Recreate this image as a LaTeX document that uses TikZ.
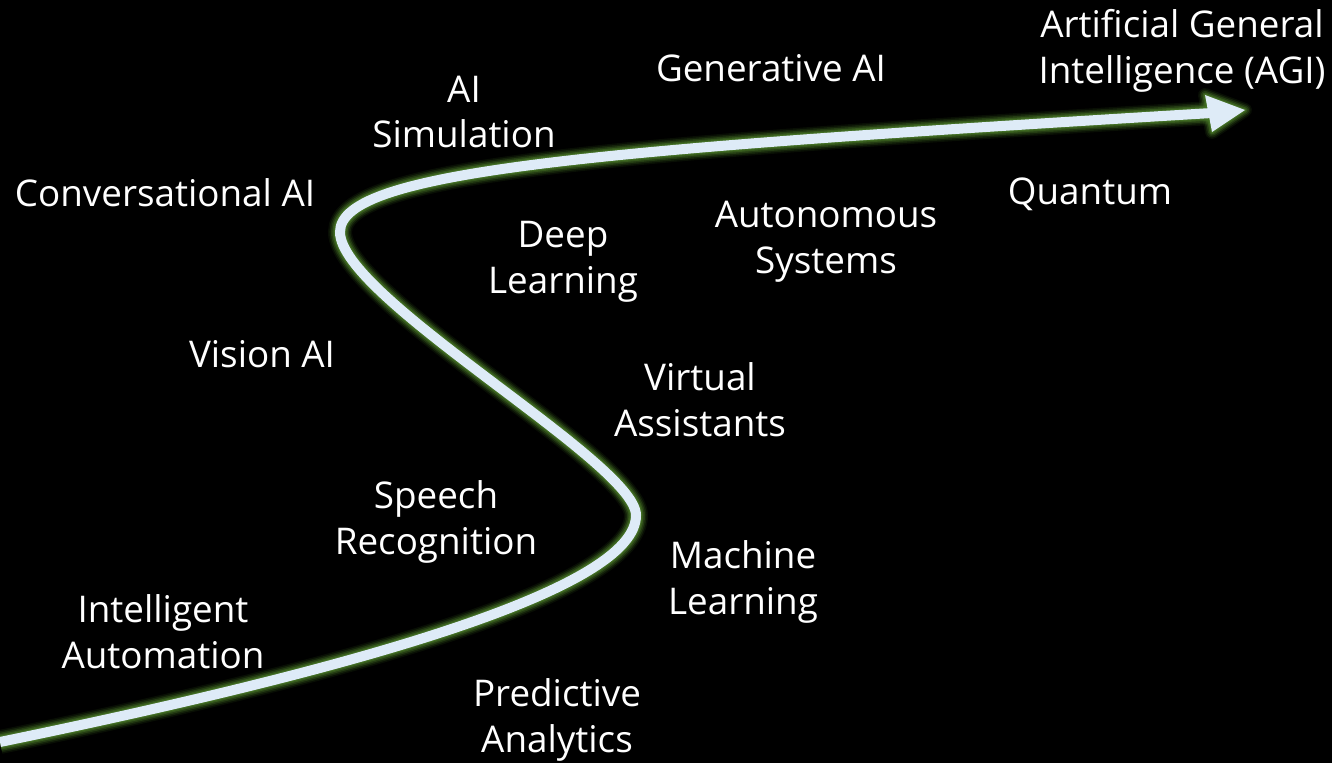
\documentclass[tikz,border=0pt]{standalone}
\usepackage{fontspec}
\setmainfont{Open Sans}
\definecolor{core}{HTML}{DEEBF7}
\definecolor{glow}{HTML}{467526}
\begin{document}
\begin{tikzpicture}[x=0.5pt,y=-0.5pt,
  lbl/.style={text=white, font=\fontsize{18.4}{22.8}\selectfont, align=center, inner sep=0pt}]
\fill[black] (0,0) rectangle (1332,763);
\useasboundingbox (0,0) rectangle (1332,763);
% glow layers
\foreach \w/\o in {12/0.12, 10.5/0.2, 9/0.32, 7.5/0.5, 6.2/0.75}{
  \draw[glow, line width=\w pt, opacity=\o, line cap=butt]
    (0,742) .. controls (350,670) and (637,590) .. (636,515)
    .. controls (635,462) and (340,298) .. (340,232)
    .. controls (340,170) and (600,150) .. (1212,113);
  \draw[glow, line width=\w pt - 5pt, opacity=\o, line join=round]
    (1245,110) -- (1205,95) -- (1212,132) -- cycle;
}
\draw[core, line width=5pt]
    (0,742) .. controls (350,670) and (637,590) .. (636,515)
    .. controls (635,462) and (340,298) .. (340,232)
    .. controls (340,170) and (600,150) .. (1212,113);
\fill[core] (1245,110) -- (1205,95) -- (1212,132) -- cycle;
% labels
\node[lbl] (agi) at (1182,51) {Artificial General\\Intelligence (AGI)};
\node[lbl] (gen) at (771,68) {Generative AI};
\node[lbl] (sim) at (464,112) {AI\\Simulation};
\node[lbl] (conv) at (165,193) {Conversational AI};
\node[lbl] (quant) at (1090,194) {Quantum};
\node[lbl] (auto) at (826,242) {Autonomous\\Systems};
\node[lbl] (deep) at (563,262) {Deep\\Learning};
\node[lbl] (vision) at (262,354) {Vision AI};
\node[lbl] (virt) at (700,400) {Virtual\\Assistants};
\node[lbl] (speech) at (436,522) {Speech\\Recognition};
\node[lbl] (ml) at (743,582) {Machine\\Learning};
\node[lbl] (ia) at (163,632) {Intelligent\\Automation};
\node[lbl] (pred) at (557,720) {Predictive\\Analytics};
\end{tikzpicture}
\end{document}
